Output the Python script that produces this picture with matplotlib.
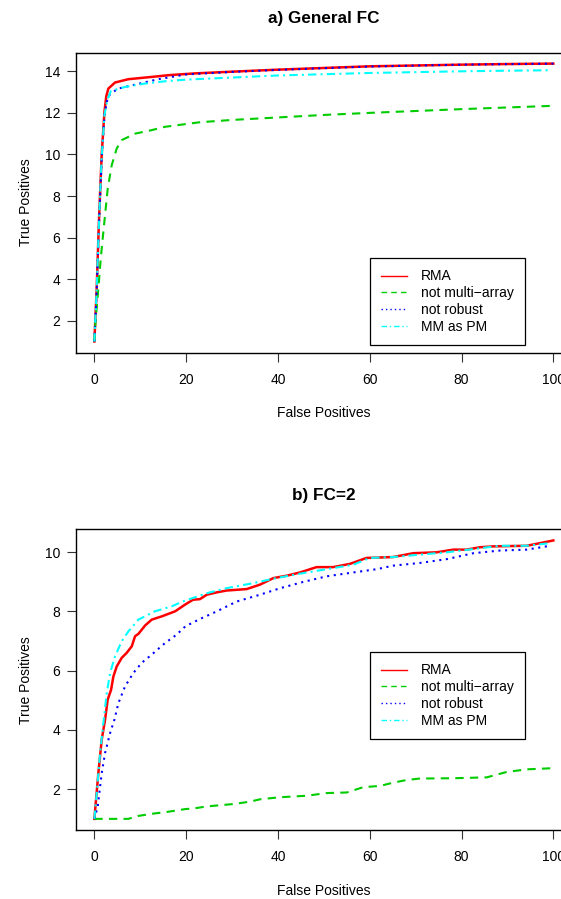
import matplotlib
matplotlib.use("Agg")
import matplotlib.pyplot as plt

plt.rcParams['font.family'] = ['Liberation Sans', 'DejaVu Sans']

# ---------------- data: panel a) General FC ----------------
rma_a_x = [0, 0.5, 1.0, 1.6, 2.2, 2.6, 3.05, 4.5, 7.4, 12.5, 16.5, 22, 28.8, 40, 50, 60, 70, 80, 90, 100]
rma_a_y = [1.0, 3.5, 6.8, 10.0, 12.05, 12.8, 13.17, 13.46, 13.62, 13.73, 13.82, 13.9, 13.97, 14.08, 14.16, 14.24, 14.28, 14.32, 14.35, 14.37]

nma_a_x = [0, 0.15, 0.87, 1.46, 2.18, 2.92, 3.79, 4.88, 5.97, 8.87, 12.5, 15.4, 23, 30, 40, 50, 60, 70, 80, 90, 100]
nma_a_y = [1.0, 1.65, 3.56, 5.16, 6.76, 8.37, 9.49, 10.29, 10.69, 11.0, 11.17, 11.33, 11.55, 11.66, 11.78, 11.9, 12.0, 12.09, 12.18, 12.26, 12.34]

nrb_a_x = [0, 0.5, 1.0, 1.6, 2.2, 2.8, 3.4, 5.2, 8.9, 13.9, 20, 30, 40, 60, 80, 100]
nrb_a_y = [1.0, 3.4, 6.6, 9.8, 11.9, 12.6, 12.9, 13.17, 13.36, 13.62, 13.85, 13.97, 14.07, 14.23, 14.32, 14.37]

mm_a_x = [0, 0.5, 1.0, 1.6, 2.2, 2.8, 3.6, 6.7, 11, 15.4, 20, 30, 40, 50, 60, 70, 80, 90, 99]
mm_a_y = [1.0, 3.5, 6.7, 9.9, 11.9, 12.6, 13.05, 13.25, 13.41, 13.52, 13.6, 13.7, 13.8, 13.86, 13.92, 13.96, 14.0, 14.03, 14.05]

# ---------------- data: panel b) FC=2 ----------------
rma_b_x = [0, 0.87, 1.6, 2.33, 2.9, 3.64, 4.14, 4.87, 5.96, 7.05, 8.15, 8.87, 9.6, 11.05, 12.5, 14.7, 17.6, 19.8,
           21.5, 23, 24.5, 26.7, 28.8, 33.2, 36.1, 39, 41.9, 44.8, 48.4, 52, 55.7, 59.3, 65.1, 69.5, 74.6, 78.2,
           81.1, 84, 86.9, 94.2, 97.8, 100]
rma_b_y = [1.0, 2.54, 3.67, 4.34, 5.02, 5.35, 5.8, 6.14, 6.43, 6.6, 6.82, 7.16, 7.24, 7.52, 7.72, 7.83, 8.0, 8.23,
           8.39, 8.41, 8.56, 8.64, 8.7, 8.75, 8.9, 9.12, 9.2, 9.31, 9.49, 9.49, 9.6, 9.8, 9.83, 9.96, 9.99, 10.08,
           10.08, 10.16, 10.19, 10.21, 10.32, 10.39]

nma_b_x = [0, 7.4, 9.6, 12.5, 16.1, 19.8, 21.6, 24.5, 28.1, 30.3, 33.9, 36.1, 40.5, 46.3, 50.6, 55, 58.6, 62.2,
           65.1, 68, 70.9, 78.2, 85.5, 89.8, 94.2, 100]
nma_b_y = [1.0, 1.0, 1.1, 1.17, 1.24, 1.33, 1.35, 1.42, 1.47, 1.5, 1.58, 1.66, 1.73, 1.78, 1.87, 1.89, 2.07, 2.11,
           2.22, 2.31, 2.36, 2.37, 2.4, 2.58, 2.67, 2.71]

nrb_b_x = [0, 0.73, 1.6, 2.33, 3.42, 4.36, 5.23, 6.69, 8.5, 10.3, 12.5, 15.4, 17.9, 19.8, 23, 26.7, 31, 36.1,
           40.5, 45.5, 50.6, 56.4, 61.5, 65.1, 70.9, 76.8, 82.6, 88.4, 94.2, 99.3]
nrb_b_y = [1.0, 1.41, 2.54, 3.22, 3.89, 4.34, 4.9, 5.47, 5.92, 6.26, 6.54, 6.93, 7.21, 7.49, 7.74, 8.0, 8.33, 8.56,
           8.78, 8.99, 9.18, 9.31, 9.42, 9.54, 9.63, 9.76, 9.96, 10.05, 10.08, 10.21]

mm_b_x = [0, 0.51, 1.24, 1.96, 2.7, 3.42, 4.5, 5.96, 7.4, 9.6, 13.2, 16.9, 19.4, 24.5, 28.8, 34.6, 39, 44.8,
          50.6, 56.4, 60, 65.1, 70.9, 76.8, 82.6, 88.4, 94.2, 99.3]
mm_b_y = [1.0, 1.86, 3.2, 4.23, 5.24, 5.92, 6.48, 6.99, 7.32, 7.72, 8.0, 8.17, 8.34, 8.61, 8.78, 8.95, 9.1, 9.27,
          9.42, 9.57, 9.8, 9.83, 9.91, 9.99, 10.1, 10.21, 10.21, 10.3]

labels = ["RMA", "not multi\u2212array", "not robust", "MM as PM"]
titles = ["a) General FC", "b) FC=2"]
x_ticks = [0, 20, 40, 60, 80, 100]
y_ticks_a = [2, 4, 6, 8, 10, 12, 14]
y_ticks_b = [2, 4, 6, 8, 10]

colors = ["#FF0000", "#00CD00", "#0000FF", "#00FFFF"]
styles = [dict(linestyle='-'), dict(dashes=(4, 3)), dict(dashes=(1, 2.2)), dict(dashes=(4, 2, 1, 2))]
widths = [1.8, 1.5, 1.5, 1.5]

W, H = 561, 899
fig = plt.figure(figsize=(W / 100, H / 100), dpi=100)

ax_left = 76 / W
ax_w = 495.7 / W
ax_a = fig.add_axes([ax_left, 1 - 352.6 / H, ax_w, 300.1 / H])
ax_b = fig.add_axes([ax_left, 1 - 830.0 / H, ax_w, 300.7 / H])

panels = [
    (ax_a, [(rma_a_x, rma_a_y), (nma_a_x, nma_a_y), (nrb_a_x, nrb_a_y), (mm_a_x, mm_a_y)], y_ticks_a, titles[0], 0.314),
    (ax_b, [(rma_b_x, rma_b_y), (nma_b_x, nma_b_y), (nrb_b_x, nrb_b_y), (mm_b_x, mm_b_y)], y_ticks_b, titles[1], 0.591),
]

for ax, series, yt, title, leg_top in panels:
    for (xs, ys), c, st, lw, lab in zip(series, colors, styles, widths, labels):
        ax.plot(xs, ys, color=c, lw=lw, label=lab, **st)
    ax.margins(x=0.04, y=0.04)
    ax.set_xticks(x_ticks)
    ax.set_yticks(yt)
    ax.tick_params(direction='out', length=6.5, width=0.8, labelsize=10, pad=5, color='#333333')
    ax.tick_params(axis='x', pad=8)
    for s in ax.spines.values():
        s.set_linewidth(1.0)
    ax.set_xlabel("False Positives", fontsize=10)
    ax.xaxis.set_label_coords(0.5, -60.4 / 300.0)
    ax.xaxis.label.set_va('center')
    ax.set_ylabel("True Positives", fontsize=10)
    ax.yaxis.set_label_coords(-50.0 / 495.7, 0.5)
    ax.yaxis.label.set_va('center')
    ax.set_title(title, fontsize=12.3, fontweight='bold', y=1 + 34 / 300.0, va='center', pad=0)
    leg = ax.legend(loc='upper left', bbox_to_anchor=(0.593, leg_top), fontsize=10, frameon=True,
                    fancybox=False, edgecolor='black', framealpha=1, borderpad=0.8,
                    handlelength=1.9, handletextpad=0.95, labelspacing=0.2, borderaxespad=0)
    leg.get_frame().set_linewidth(0.9)
    for ln in leg.get_lines():
        ln.set_linewidth(1.0)

fig.savefig("out.png", dpi=100)
